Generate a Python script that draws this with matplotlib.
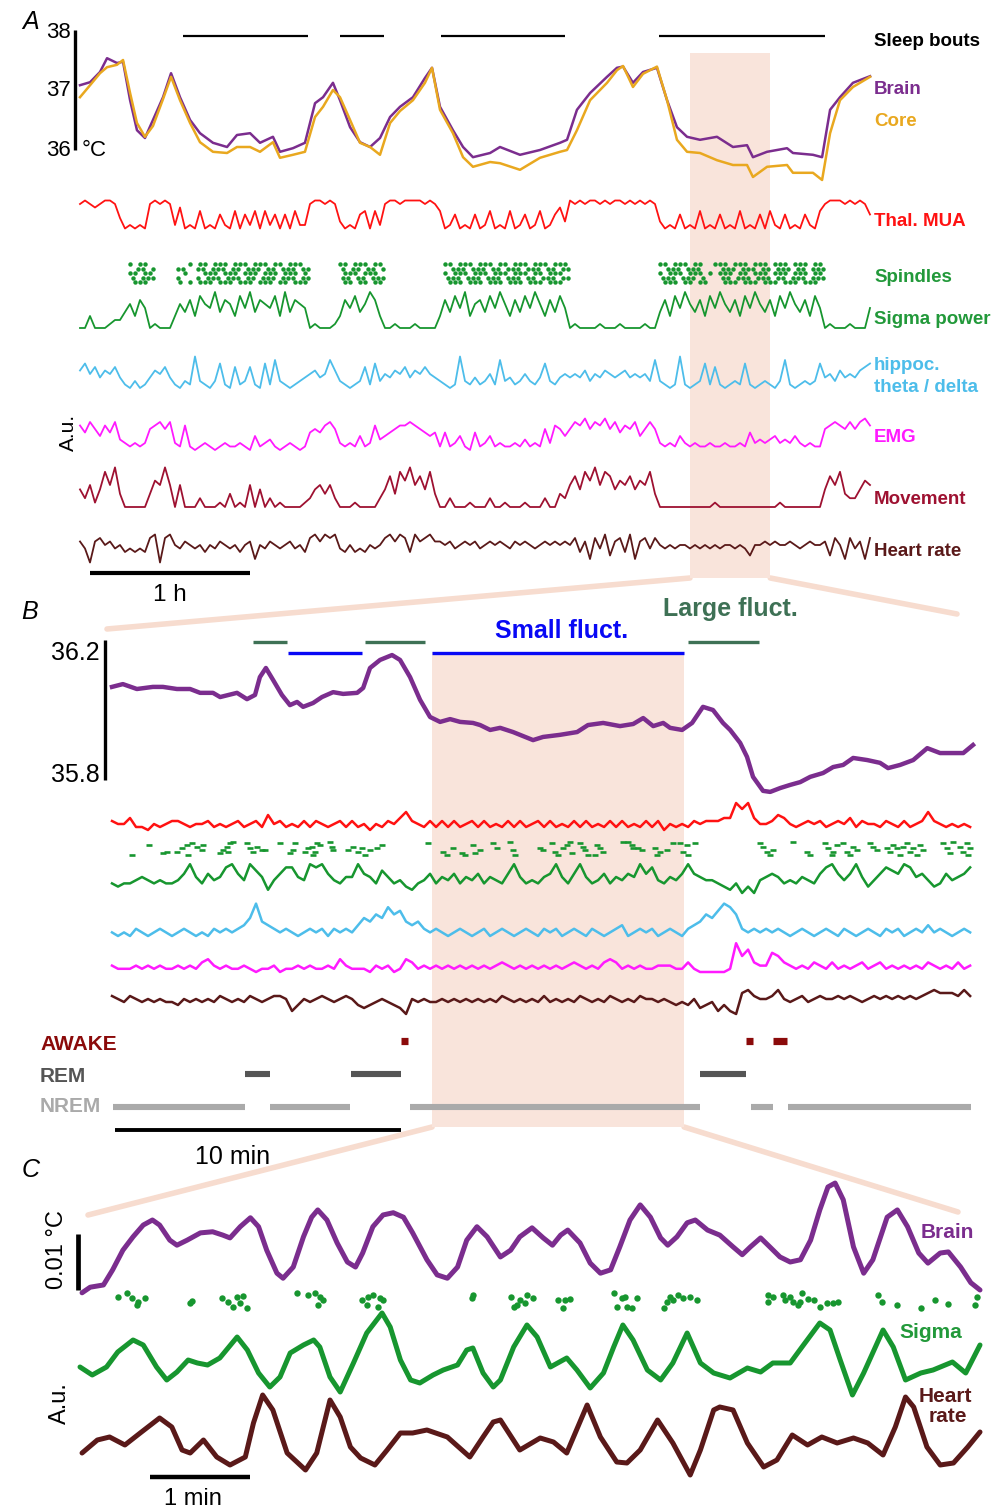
import numpy as np
import matplotlib
matplotlib.use("Agg")
import matplotlib.pyplot as plt
import matplotlib.transforms as mtransforms
from matplotlib.patches import ConnectionPatch

plt.rcParams['font.family'] = ['Liberation Sans', 'DejaVu Sans']

# ---------------------------------------------------------------- data
# Panel A : temperatures (time in hours)
TEMP_A_T = [0, 0.063, 0.125, 0.169, 0.231, 0.269, 0.313, 0.356, 0.406, 0.456,
            0.519, 0.569, 0.625, 0.688, 0.75, 0.831, 0.919, 0.981, 1.063, 1.125,
            1.206, 1.25, 1.331, 1.406, 1.469, 1.519, 1.581, 1.625, 1.688, 1.75,
            1.813, 1.875, 1.938, 2.0, 2.081, 2.156, 2.2, 2.25, 2.331, 2.394,
            2.456, 2.563, 2.625, 2.75, 2.875, 3.0, 3.044, 3.106, 3.188, 3.294,
            3.356, 3.394, 3.456, 3.519, 3.606, 3.669, 3.731, 3.794, 3.875, 3.981,
            4.081, 4.169, 4.206, 4.294, 4.419, 4.456, 4.581, 4.638, 4.688, 4.75,
            4.831, 4.938]
BRAIN_A = [37.08, 37.13, 37.30, 37.53, 37.45, 37.47, 36.83, 36.33, 36.20, 36.50,
           36.88, 37.28, 36.88, 36.50, 36.28, 36.12, 36.05, 36.25, 36.28, 36.12,
           36.22, 35.97, 36.03, 36.12, 36.78, 36.88, 37.12, 36.83, 36.38, 36.13,
           36.05, 36.20, 36.55, 36.72, 36.88, 37.20, 37.37, 36.72, 36.33, 36.05,
           35.88, 35.95, 36.05, 35.92, 36.00, 36.12, 36.17, 36.67, 36.95, 37.22,
           37.37, 37.39, 37.12, 37.30, 37.37, 36.83, 36.38, 36.22, 36.17, 36.22,
           36.05, 36.08, 35.88, 35.97, 36.03, 35.95, 35.92, 35.88, 36.67, 36.88,
           37.12, 37.23]
CORE_A = [36.88, 37.08, 37.28, 37.38, 37.42, 37.50, 36.95, 36.45, 36.22, 36.40,
          36.85, 37.22, 36.83, 36.45, 36.13, 35.97, 35.95, 36.05, 36.05, 35.97,
          36.13, 35.87, 35.92, 35.97, 36.55, 36.72, 37.00, 36.88, 36.50, 36.12,
          36.05, 35.92, 36.45, 36.65, 36.83, 37.12, 37.37, 36.67, 36.28, 35.88,
          35.72, 35.80, 35.78, 35.67, 35.87, 35.97, 36.00, 36.33, 36.83, 37.12,
          37.33, 37.40, 37.05, 37.27, 37.39, 36.83, 36.17, 35.97, 35.95, 35.83,
          35.75, 35.75, 35.55, 35.72, 35.75, 35.62, 35.62, 35.50, 36.28, 36.83,
          37.05, 37.22]
SLEEP_START = [0.644, 1.625, 2.256, 3.619]
SLEEP_END = [1.425, 1.900, 3.031, 4.656]
ZOOM_A = (3.8125, 4.3142)          # hours, the window shown in B

# Panel A : a.u. traces, one level (0-9) per 1/32 h
DT_A = 1 / 32
MUA_A = ("89878998" "4" "12121" "8" "9898" "2" "7" "1216121521615261625151622"
         "899898" "312156162" "89989999898" "61251215126121612512612573"
         "989899898998989898" "312151216121512161215162151215216" "899989898" "5")
SIGMA_A = ("003000122" "46375" "01000" "36" "4738659476385947658394765" "010001"
           "375846973" "00100010000" "37485936748596374859637485"
           "010000100010000100" "473859647385964738596473859647385" "0100010005")
HIPPOC_A = ("574635463" "10201" "35463" "102192102710612610718210123" "453485"
            "210126172" "43546354643" "21019213124182312421372134"
            "343524354345343428" "210191012716101217101210281012127" "3425343567")
EMG_A = ("758647583" "21212" "67868" "217101210121121041231012101" "565786"
         "212141273" "45677876545" "15124105124121121312162764"
         "687968796857684686" "212142121121121121523234232421211" "6787686897")
MOVE_A = ("425148593" "00000" "36595" "050002000103010504020100001" "245352"
          "000100002" "47386957483" "00200010002001000100020032"
          "574869587465746583" "000000000001000000000000100000000" "4758322465")
HR_A = ("640675645" "34343" "78078" "546545354654535615465456453" "786878"
        "435343545" "78687386786" "65645656456565465654565656"
        "573617482673816747" "545455454545455454255656556545655" "6275174617")
SPINDLE_ROWS_A = [
    "0000000000" "10110" "0000" "0" "00101101110111011101101110" "000000" "110111011"
    "000000000000" "1101110111011011101110111" "000000000000000000"
    "110111011001110111011101110111011" "0000000000",
    "0000000000" "01101" "0000" "1" "10011011101101110110111011" "000000" "101101101"
    "000000000000" "0111011101101110111011011" "000000000000000000"
    "011101110000111011101101110110111" "0000000000",
    "0000000000" "11011" "0000" "0" "01000111011101110111011101" "000000" "011101110"
    "000000000000" "1011101110111011101101110" "000000000000000000"
    "101110111010111011011101110111011" "0000000000",
    "0000000000" "10111" "0000" "1" "00010111011101101110111011" "000000" "110110111"
    "000000000000" "1110111011101110110111011" "000000000000000000"
    "111011101000110111011101101110111" "0000000000",
    "0000000000" "01110" "0000" "0" "10101110111011101110110111" "000000" "011011011"
    "000000000000" "0111011101110111011101110" "000000000000000000"
    "011101101100011101110111011101110" "0000000000",
]

# Panel B : brain temperature (time in minutes)
TEMP_B_T = [0.00, 0.38, 0.87, 1.43, 1.78, 2.27, 2.73, 3.08, 3.53, 3.78, 4.37, 4.72,
            5.00, 5.17, 5.38, 5.63, 5.94, 6.22, 6.47, 6.68, 7.03, 7.34, 7.73, 8.08,
            8.57, 8.78, 9.02, 9.37, 9.79, 10.07, 10.42, 10.77, 11.12, 11.47, 11.82,
            12.17, 12.62, 12.87, 13.22, 13.57, 14.02, 14.72, 15.07, 15.66, 16.26,
            16.64, 17.17, 17.76, 18.22, 18.57, 18.92, 19.27, 19.51, 19.93, 20.28,
            20.66, 21.01, 21.36, 21.61, 21.96, 22.20, 22.41, 22.76, 23.01, 23.36,
            23.71, 24.06, 24.41, 24.86, 25.21, 25.56, 25.91, 26.40, 26.85, 27.13,
            27.55, 28.01, 28.50, 28.95, 29.30, 29.76, 30.10]
BRAIN_B = [36.066, 36.074, 36.060, 36.066, 36.066, 36.060, 36.060, 36.049, 36.049,
           36.037, 36.049, 36.031, 36.043, 36.094, 36.120, 36.086, 36.043, 36.014,
           36.023, 36.009, 36.020, 36.037, 36.051, 36.046, 36.049, 36.063, 36.120,
           36.143, 36.157, 36.143, 36.094, 36.029, 35.980, 35.966, 35.974, 35.966,
           35.963, 35.957, 35.943, 35.949, 35.937, 35.914, 35.923, 35.929, 35.937,
           35.957, 35.963, 35.954, 35.960, 35.977, 35.954, 35.963, 35.949, 35.943,
           35.963, 36.009, 36.000, 35.963, 35.943, 35.906, 35.866, 35.809, 35.769,
           35.766, 35.777, 35.786, 35.794, 35.809, 35.820, 35.837, 35.843, 35.863,
           35.857, 35.849, 35.834, 35.843, 35.857, 35.891, 35.877, 35.877, 35.877,
           35.900]
LARGE_START = [4.93, 8.85, 20.14]
LARGE_END = [6.12, 10.94, 22.62]
SMALL_START = [6.15, 11.19]
SMALL_END = [8.74, 20.00]
ZOOM_B = (11.19, 20.00)            # minutes, the window shown in C

# Panel B : a.u. traces, one level (0-9) per 0.21 min
DT_B = 6 / 28.6
MUA_B = ("3224110212" "3321223121" "2312315231" "2131321231" "3120213246"
         "3213131312" "3131213131" "2313121313" "1213131213" "1302121323"
         "3344979422" "3542123231" "2324132213" "2131236321" "2121")
SIGMA_B = ("3233454343" "3469536458" "9649751468" "8549896435" "5965375342"
           "1346354635" "4635436953" "4356953695" "3463546596" "8435469654"
           "4321302045" "6534354368" "9646952468" "7698564236" "4568")
HIPPOC_B = ("1010210121" "0121010212" "1235943212" "1012120212" "1354658674"
            "3421210121" "0120121012" "1021201210" "2101230121" "2012102346"
            "5798621212" "1210121012" "1021012102" "1201213121" "0121")
EMG_B = ("2111212121" "1212134212" "1121011201" "1212112142" "1110212014"
         "3121212121" "2121232121" "2121212321" "2134312121" "1222113100"
         "0001957322" "6532121321" "3121231231" "2121213212" "1312")
HR_B = ("6546545454" "4354545465" "4546545665" "1354565456" "5323454320"
        "5454454545" "4545465454" "5464545465" "4546545465" "5454343523"
        "4131078655" "6854564565" "5656545656" "5656567877" "7686")
SPINDLE_B_T = [0.70, 1.29, 1.78, 1.92, 2.27, 2.45, 2.62, 2.66, 2.80, 2.97,
               3.15, 3.18, 3.78, 3.88, 4.02, 4.13, 4.23, 4.06, 4.72, 4.83,
               4.93, 5.07, 5.24, 5.35, 5.87, 6.22, 6.33, 6.40, 6.75, 6.85,
               6.99, 7.10, 7.17, 7.27, 7.03, 7.62, 7.69, 7.73, 8.25, 8.43,
               8.60, 8.74, 8.85, 9.02, 9.27, 9.44, 11.05, 11.57, 11.71, 11.92,
               12.24, 12.34, 12.62, 12.69, 12.87, 13.32, 13.46,
               13.92, 14.02, 14.09, 14.97, 15.07, 15.38, 15.49, 15.59, 15.77, 15.91,
               16.01, 16.08, 16.36, 16.47, 16.54, 16.64, 16.89, 16.96, 17.06, 17.17,
               17.87, 18.04, 18.18, 18.22, 18.39, 18.53, 18.99, 19.06, 19.16, 19.41,
               19.62, 19.86, 19.97, 20.10, 20.14, 20.38, 22.66, 22.76, 22.90, 23.01,
               23.11, 23.81, 24.30, 24.41, 24.93, 25.03, 25.17, 25.21, 25.35, 25.56,
               25.70, 25.80, 25.91, 26.05, 26.50, 26.61, 26.75, 27.10, 27.20, 27.31,
               27.45, 27.55, 27.66, 27.80, 27.90, 28.01, 28.15, 28.25, 28.36, 29.06,
               29.20, 29.30, 29.41, 29.65, 29.76, 29.90, 29.93, 30.00]
SPINDLE_B_LANE = ("9387753924" "6386421725" "7466286275" "4723914664" "7596532795"
                  "8938625"
                  "1695627953" "1824699357" "1135565976" "2273922479" "6179259732"
                  "7946246573" "5942759362" "58147295")
AWAKE_START, AWAKE_END = [10.10, 22.17, 23.11], [10.36, 22.41, 23.60]
REM_START, REM_END = [4.65, 8.36, 20.56], [5.52, 10.10, 22.17]
NREM_START = [0.03, 5.52, 10.42, 22.34, 23.64]
NREM_END = [4.65, 8.32, 20.56, 23.11, 30.03]

# Panel C (time in minutes)
BRAIN_C_T = [0.02, 0.10, 0.23, 0.32, 0.42, 0.52, 0.62, 0.71, 0.78, 0.88, 0.95, 1.05,
             1.18, 1.30, 1.40, 1.47, 1.57, 1.67, 1.75, 1.83, 1.93, 1.99, 2.09, 2.19,
             2.27, 2.33, 2.42, 2.52, 2.62, 2.70, 2.77, 2.87, 2.97, 3.07, 3.17, 3.26,
             3.40, 3.50, 3.60, 3.70, 3.79, 3.89, 3.99, 4.12, 4.22, 4.31, 4.43, 4.54,
             4.63, 4.71, 4.78, 4.90, 5.00, 5.10, 5.20, 5.29, 5.39, 5.49, 5.59, 5.69,
             5.76, 5.85, 5.95, 6.03, 6.15, 6.27, 6.40, 6.49, 6.57, 6.67, 6.76, 6.86,
             6.96, 7.06, 7.16, 7.25, 7.33, 7.40, 7.48, 7.58, 7.68, 7.77, 7.91, 8.01,
             8.11, 8.22, 8.31, 8.43, 8.51, 8.63, 8.73, 8.82]
BRAIN_C = [-0.5, 0.5, 0.9, 3.6, 7.1, 9.5, 11.6, 12.5, 11.6, 8.9, 8.0, 8.9,
           10.2, 10.4, 9.8, 9.3, 11.3, 12.9, 11.3, 7.1, 3.0, 2.1, 4.1, 9.5,
           13.0, 14.3, 12.5, 8.4, 5.0, 4.1, 6.6, 11.3, 13.4, 13.8, 13.0, 10.2,
           5.4, 2.7, 2.1, 4.1, 8.9, 11.3, 9.5, 5.9, 7.1, 9.5, 11.1, 9.3,
           8.0, 9.8, 10.7, 8.4, 4.8, 3.0, 3.6, 7.7, 12.5, 15.2, 13.0, 9.3,
           8.0, 9.5, 12.0, 12.5, 10.7, 9.8, 7.7, 6.3, 7.7, 9.3, 7.7, 5.9,
           5.0, 5.4, 8.9, 14.3, 18.4, 19.1, 16.1, 7.7, 3.0, 5.4, 13.0, 14.3,
           11.3, 6.6, 4.8, 6.6, 6.8, 4.1, 1.3, 0.0]   # m°C
SIGMA_C_T = [0.00, 0.12, 0.26, 0.37, 0.52, 0.62, 0.75, 0.85, 0.95, 1.06, 1.15, 1.25,
             1.37, 1.54, 1.64, 1.75, 1.86, 1.96, 2.06, 2.19, 2.29, 2.35, 2.45, 2.55,
             2.68, 2.81, 2.96, 3.04, 3.14, 3.24, 3.33, 3.46, 3.56, 3.70, 3.79, 3.85,
             3.95, 4.05, 4.12, 4.25, 4.38, 4.48, 4.61, 4.77, 4.87, 5.00, 5.13, 5.23,
             5.32, 5.42, 5.56, 5.69, 5.81, 5.95, 6.08, 6.21, 6.37, 6.54, 6.67, 6.79,
             6.96, 7.09, 7.25, 7.35, 7.45, 7.57, 7.68, 7.87, 7.97, 8.09, 8.24, 8.36,
             8.55, 8.68, 8.82]
SIGMA_C = [3.3, 2.5, 3.3, 4.8, 6.0, 5.5, 3.3, 2.0, 2.8, 4.0, 3.7, 3.5,
           4.2, 6.3, 5.0, 2.7, 1.3, 2.3, 4.7, 5.5, 6.0, 5.3, 2.3, 0.8,
           3.7, 6.7, 8.7, 7.3, 4.0, 2.0, 1.7, 2.5, 3.0, 3.5, 5.0, 5.2,
           2.7, 1.3, 2.0, 5.3, 7.5, 6.3, 3.3, 4.2, 3.0, 1.2, 2.7, 5.3,
           7.5, 6.0, 3.0, 2.0, 3.7, 6.7, 3.7, 2.7, 2.2, 3.2, 2.8, 3.7,
           3.7, 5.5, 7.7, 7.0, 4.0, 0.5, 2.7, 7.0, 5.3, 2.0, 2.7, 3.0,
           3.8, 2.7, 5.5]
HR_C_T = [0.02, 0.17, 0.29, 0.44, 0.59, 0.78, 0.90, 1.00, 1.08, 1.21, 1.34, 1.47,
          1.62, 1.70, 1.79, 1.89, 2.03, 2.21, 2.32, 2.45, 2.55, 2.65, 2.75, 2.89,
          3.01, 3.14, 3.26, 3.40, 3.60, 3.82, 3.95, 4.05, 4.12, 4.31, 4.51, 4.64,
          4.77, 4.97, 5.10, 5.26, 5.36, 5.49, 5.66, 5.81, 5.98, 6.08, 6.21, 6.27,
          6.40, 6.54, 6.70, 6.83, 6.98, 7.13, 7.27, 7.42, 7.58, 7.72, 7.87, 7.99,
          8.09, 8.17, 8.30, 8.43, 8.56, 8.70, 8.82]
HR_C = [2.7, 4.0, 4.3, 3.5, 4.7, 6.2, 5.3, 3.0, 2.7, 4.0, 2.3, 1.5,
        2.3, 5.7, 8.5, 7.0, 2.7, 1.0, 2.7, 8.0, 6.3, 3.3, 2.2, 1.5,
        3.0, 4.7, 4.7, 5.0, 4.3, 2.3, 4.3, 5.8, 6.0, 3.0, 4.2, 3.8,
        2.7, 7.5, 4.3, 1.8, 1.7, 3.0, 6.0, 3.7, 0.5, 3.0, 7.0, 7.3,
        7.0, 3.7, 1.3, 2.0, 4.5, 3.5, 4.3, 3.7, 4.2, 3.7, 2.5, 5.3,
        8.3, 7.3, 3.3, 1.5, 1.7, 3.3, 4.8]
SPINDLE_C_T = [0.37, 0.46, 0.51, 0.57, 0.64, 0.56, 1.08, 1.10,
               1.39, 1.45, 1.54, 1.60, 1.57, 1.50, 1.64, 2.13, 2.23, 2.30, 2.35, 2.33, 2.38,
               2.76, 2.82, 2.87, 2.94, 2.97, 2.81, 2.92, 3.85, 3.84,
               4.22, 4.28, 4.31, 4.38, 4.44, 4.25, 4.36, 4.68, 4.75, 4.80, 4.73,
               5.23, 5.31, 5.34, 5.46, 5.26, 5.36, 5.41,
               5.72, 5.78, 5.81, 5.86, 5.91, 5.98, 6.05, 5.75,
               6.74, 6.74, 6.79, 6.89, 6.96, 6.99, 7.08, 7.06, 7.13, 7.19, 7.25, 7.32,
               7.38, 7.43, 7.04, 6.91, 7.82, 7.86, 8.01, 8.24, 8.38, 8.51, 8.79, 8.77]
SPINDLE_C_OFF = [13, 17, 12, 8, 12, 5, 7, 9,
                 12, 8, 13, 14, 7, 3, 2, 17, 15, 17, 13, 5, 10,
                 10, 13, 15, 12, 10, 5, 3, 15, 12,
                 13, 5, 10, 15, 12, 3, 7, 10, 10, 11, 2,
                 17, 12, 13, 12, 3, 3, 2,
                 2, 13, 10, 15, 12, 13, 10, 8,
                 15, 8, 13, 15, 13, 8, 17, 8, 11, 10, 3, 7,
                 7, 8, 5, 10, 15, 8, 5, 2, 10, 6, 13, 5]

# ---------------------------------------------------------------- style
PURPLE = '#7b2d8e'
ORANGE = '#e9a81f'
RED = '#ff1212'
GREEN = '#17962f'
GREEN_T = '#22993a'
BLUE = '#4dbdea'
MAGENTA = '#ff1aff'
MOVE = '#9e1131'
HRC = '#5a1919'
SHADE = '#f9e4db'
CONN = '#f7dccf'
LGREEN = '#3e7155'
SBLUE = '#0808f5'

W, H = 1000, 1510
fig = plt.figure(figsize=(W / 100, H / 100), dpi=100)


def add_ax(x0, x1, ytop, ybot, xlim, ref):
    (pa, va), (pb, vb) = ref
    s = (vb - va) / (pb - pa)
    ax = fig.add_axes([x0 / W, 1 - ybot / H, (x1 - x0) / W, (ybot - ytop) / H])
    ax.set_xlim(*xlim)
    ax.set_ylim(va + (ybot - pa) * s, va + (ytop - pa) * s)
    ax.set_axis_off()
    ax.patch.set_visible(False)
    return ax


def txt(x, y, s, **kw):
    kw.setdefault('ha', 'left')
    kw.setdefault('va', 'center')
    fig.text(x / W, 1 - y / H, s, **kw)


def lv(s):
    return np.array([int(c) for c in s], dtype=float)


def connector(ax, t, px, py):
    tr = mtransforms.blended_transform_factory(ax.transData, ax.transAxes)
    cp = ConnectionPatch(xyA=(t, 0), coordsA=tr, xyB=(px, H - py),
                         coordsB='figure pixels', color=CONN, lw=4,
                         capstyle='round', zorder=0)
    fig.add_artist(cp)


# ================================================================ Panel A
TA = (0, 4.9375)
bgA = add_ax(80, 870, 53, 578, TA, ((53, 1), (578, 0)))
bgA.axvspan(ZOOM_A[0], ZOOM_A[1], color=SHADE, lw=0, zorder=0)

tA = add_ax(80, 870, 20, 190, TA, ((30, 38), (150, 36)))
tA.plot(TEMP_A_T, BRAIN_A, color=PURPLE, lw=1.8, clip_on=False)
tA.plot(TEMP_A_T, CORE_A, color=ORANGE, lw=1.8, clip_on=False)
tA.hlines([37.9] * len(SLEEP_START), SLEEP_START, SLEEP_END, color='black', lw=1.6)
tA.plot([-0.031, -0.031], [36, 38], color='black', lw=2.4, clip_on=False,
        solid_capstyle='butt')


def trace_a(s, ref, top, bot, color, lw=1.3):
    ax = add_ax(80, 870, top, bot, TA, ref)
    y = lv(s)
    ax.plot(np.arange(len(y)) * DT_A, y, color=color, lw=lw, clip_on=False)
    return ax


trace_a(MUA_A, ((232, 0), (200.5, 9)), 190, 240, RED)
spA = add_ax(80, 870, 255, 290, TA, ((264, 0), (282, 4)))
for r, row in enumerate(SPINDLE_ROWS_A):
    idx = np.array([i for i, c in enumerate(row) if c == '1'])
    spA.plot(idx * DT_A + (r % 2) * DT_A / 2, np.full(len(idx), r), 'o',
             color=GREEN, ms=3.2, mew=0, clip_on=False)
trace_a(SIGMA_A, ((328, 0), (292, 9)), 285, 335, GREEN)
trace_a(HIPPOC_A, ((388, 0), (356.5, 9)), 345, 395, BLUE)
trace_a(EMG_A, ((450, 0), (418.5, 9)), 410, 455, MAGENTA)
trace_a(MOVE_A, ((507, 0), (467.4, 9)), 460, 512, MOVE)
hrA = trace_a(HR_A, ((562.5, 0), (531, 9)), 520, 580, HRC)
hrA.plot([1 / 16, 1 + 1 / 16], [-3, -3], color='black', lw=3.0, clip_on=False,
         solid_capstyle='butt')

# labels A
txt(22, 22, 'A', fontsize=18, style='italic')
for y, s in [(32, '38'), (91, '37'), (150, '36')]:
    txt(71, y, s, ha='right', fontsize=16)
txt(82, 151, '°C', fontsize=16)
txt(68, 432, 'A.u.', fontsize=15, rotation=90, ha='center')
txt(170, 595, '1 h', fontsize=17.5, ha='center')
lab = dict(fontsize=13.5, fontweight='bold')
txt(874, 42, 'Sleep bouts', color='black', **lab)
txt(874, 90, 'Brain', color=PURPLE, **lab)
txt(874, 121, 'Core', color=ORANGE, **lab)
txt(874, 222, 'Thal. MUA', color=RED, **lab)
txt(874, 278, 'Spindles', color=GREEN_T, **lab)
txt(874, 320, 'Sigma power', color=GREEN_T, **lab)
txt(874, 366, 'hippoc.', color=BLUE, **lab)
txt(874, 387, 'theta / delta', color=BLUE, **lab)
txt(874, 438, 'EMG', color=MAGENTA, **lab)
txt(874, 500, 'Movement', color=MOVE, **lab)
txt(874, 552, 'Heart rate', color=HRC, **lab)

# ================================================================ Panel B
TB = (0, 30.1)
bgB = add_ax(112, 973, 652, 1127, TB, ((652, 1), (1127, 0)))
bgB.axvspan(ZOOM_B[0], ZOOM_B[1], color=SHADE, lw=0, zorder=0)

connector(bgA, ZOOM_A[0], 107, 629)
connector(bgA, ZOOM_A[1], 957, 614)

tB = add_ax(112, 973, 600, 800, TB, ((640, 36.2), (780, 35.8)))
tB.plot(TEMP_B_T, BRAIN_B, color=PURPLE, lw=3.2, clip_on=False,
        solid_joinstyle='round')
tB.hlines([36.194] * len(LARGE_START), LARGE_START, LARGE_END, color=LGREEN, lw=2.4)
tB.hlines([36.163] * len(SMALL_START), SMALL_START, SMALL_END, color=SBLUE, lw=2.4)
tB.plot([-0.245, -0.245], [35.8, 36.2], color='black', lw=2.4, clip_on=False,
        solid_capstyle='butt')


def trace_b(s, ref, top, bot, color, lw=1.8):
    ax = add_ax(112, 973, top, bot, TB, ref)
    y = lv(s)
    ax.plot(np.arange(len(y)) * DT_B, y, color=color, lw=lw, clip_on=False,
            solid_joinstyle='round')
    return ax


trace_b(MUA_B, ((830, 0), (803, 9)), 798, 838, RED)
spB = add_ax(112, 973, 836, 862, TB, ((840, 0), (855, 9)))
nB = min(len(SPINDLE_B_T), len(SPINDLE_B_LANE))
spB.plot(SPINDLE_B_T[:nB], lv(SPINDLE_B_LANE)[:nB], ls='none', marker='_',
         ms=4.0, mew=1.9, color=GREEN, clip_on=False)
trace_b(SIGMA_B, ((893, 0), (864.2, 9)), 858, 898, GREEN)
trace_b(HIPPOC_B, ((936, 0), (903.6, 9)), 898, 940, BLUE)
trace_b(EMG_B, ((972, 0), (943.2, 9)), 938, 978, MAGENTA)
trace_b(HR_B, ((1014, 0), (987, 9)), 980, 1024, HRC)

hyp = add_ax(112, 973, 1030, 1140, TB, ((1107, 0), (1041, 2)))
hyp.hlines([2] * len(AWAKE_START), AWAKE_START, AWAKE_END, color='#8b0a0a', lw=5.2)
hyp.hlines([1] * len(REM_START), REM_START, REM_END, color='#555555', lw=4.4)
hyp.hlines([0] * len(NREM_START), NREM_START, NREM_END, color='#aaaaaa', lw=4.4)
hyp.plot([0.1, 10.1], [-0.7, -0.7], color='black', lw=2.8, clip_on=False,
         solid_capstyle='butt')

txt(21, 612, 'B', fontsize=18, style='italic')
txt(100, 653, '36.2', ha='right', fontsize=18)
txt(100, 775, '35.8', ha='right', fontsize=18)
txt(562, 631, 'Small fluct.', ha='center', fontsize=18, fontweight='bold', color=SBLUE)
txt(730, 609, 'Large fluct.', ha='center', fontsize=18, fontweight='bold', color=LGREEN)
txt(40, 1044, 'AWAKE', fontsize=15, fontweight='bold', color='#8b0a0a')
txt(40, 1076, 'REM', fontsize=15, fontweight='bold', color='#555555')
txt(40, 1107, 'NREM', fontsize=15, fontweight='bold', color='#aaaaaa')
txt(233, 1157, '10 min', ha='center', fontsize=18)

# ================================================================ Panel C
TC = (0, 8.82)
connector(bgB, ZOOM_B[0], 88, 1215)
connector(bgB, ZOOM_B[1], 958, 1212)

brC = add_ax(80, 980, 1170, 1300, TC, ((1290, 0), (1234, 10)))
brC.plot(BRAIN_C_T, BRAIN_C, color=PURPLE, lw=3.6, clip_on=False,
         solid_joinstyle='round', solid_capstyle='round')
brC.plot([-0.02, -0.02], [0, 10], color='black', lw=3.4, clip_on=False,
         solid_capstyle='butt')
spC = add_ax(80, 980, 1288, 1314, TC, ((1310, 0), (1293, 17)))
spC.plot(SPINDLE_C_T, SPINDLE_C_OFF, 'o', color=GREEN, ms=4.6, mew=0, clip_on=False)
sgC = add_ax(80, 980, 1305, 1400, TC, ((1400, 0), (1300, 10)))
sgC.plot(SIGMA_C_T, SIGMA_C, color=GREEN, lw=3.6, clip_on=False,
         solid_joinstyle='round', solid_capstyle='round')
hrC = add_ax(80, 980, 1385, 1485, TC, ((1480, 0), (1380, 10)))
hrC.plot(HR_C_T, HR_C, color=HRC, lw=3.6, clip_on=False,
         solid_joinstyle='round', solid_capstyle='round')
hrC.plot([0.686, 1.666], [0.3, 0.3], color='black', lw=3.2, clip_on=False,
         solid_capstyle='butt')

txt(22, 1170, 'C', fontsize=18, style='italic')
txt(57, 1250, '0.01 °C', fontsize=17, rotation=90, ha='center')
txt(60, 1403, 'A.u.', fontsize=17, rotation=90, ha='center')
txt(193, 1499, '1 min', ha='center', fontsize=17)
txt(921, 1233, 'Brain', fontsize=15, fontweight='bold', color=PURPLE)
txt(899, 1332, 'Sigma', fontsize=15, fontweight='bold', color=GREEN_T)
txt(945, 1397, 'Heart', ha='center', fontsize=15, fontweight='bold', color=HRC)
txt(948, 1416, 'rate', ha='center', fontsize=15, fontweight='bold', color=HRC)

fig.savefig('out.png', dpi=100)
